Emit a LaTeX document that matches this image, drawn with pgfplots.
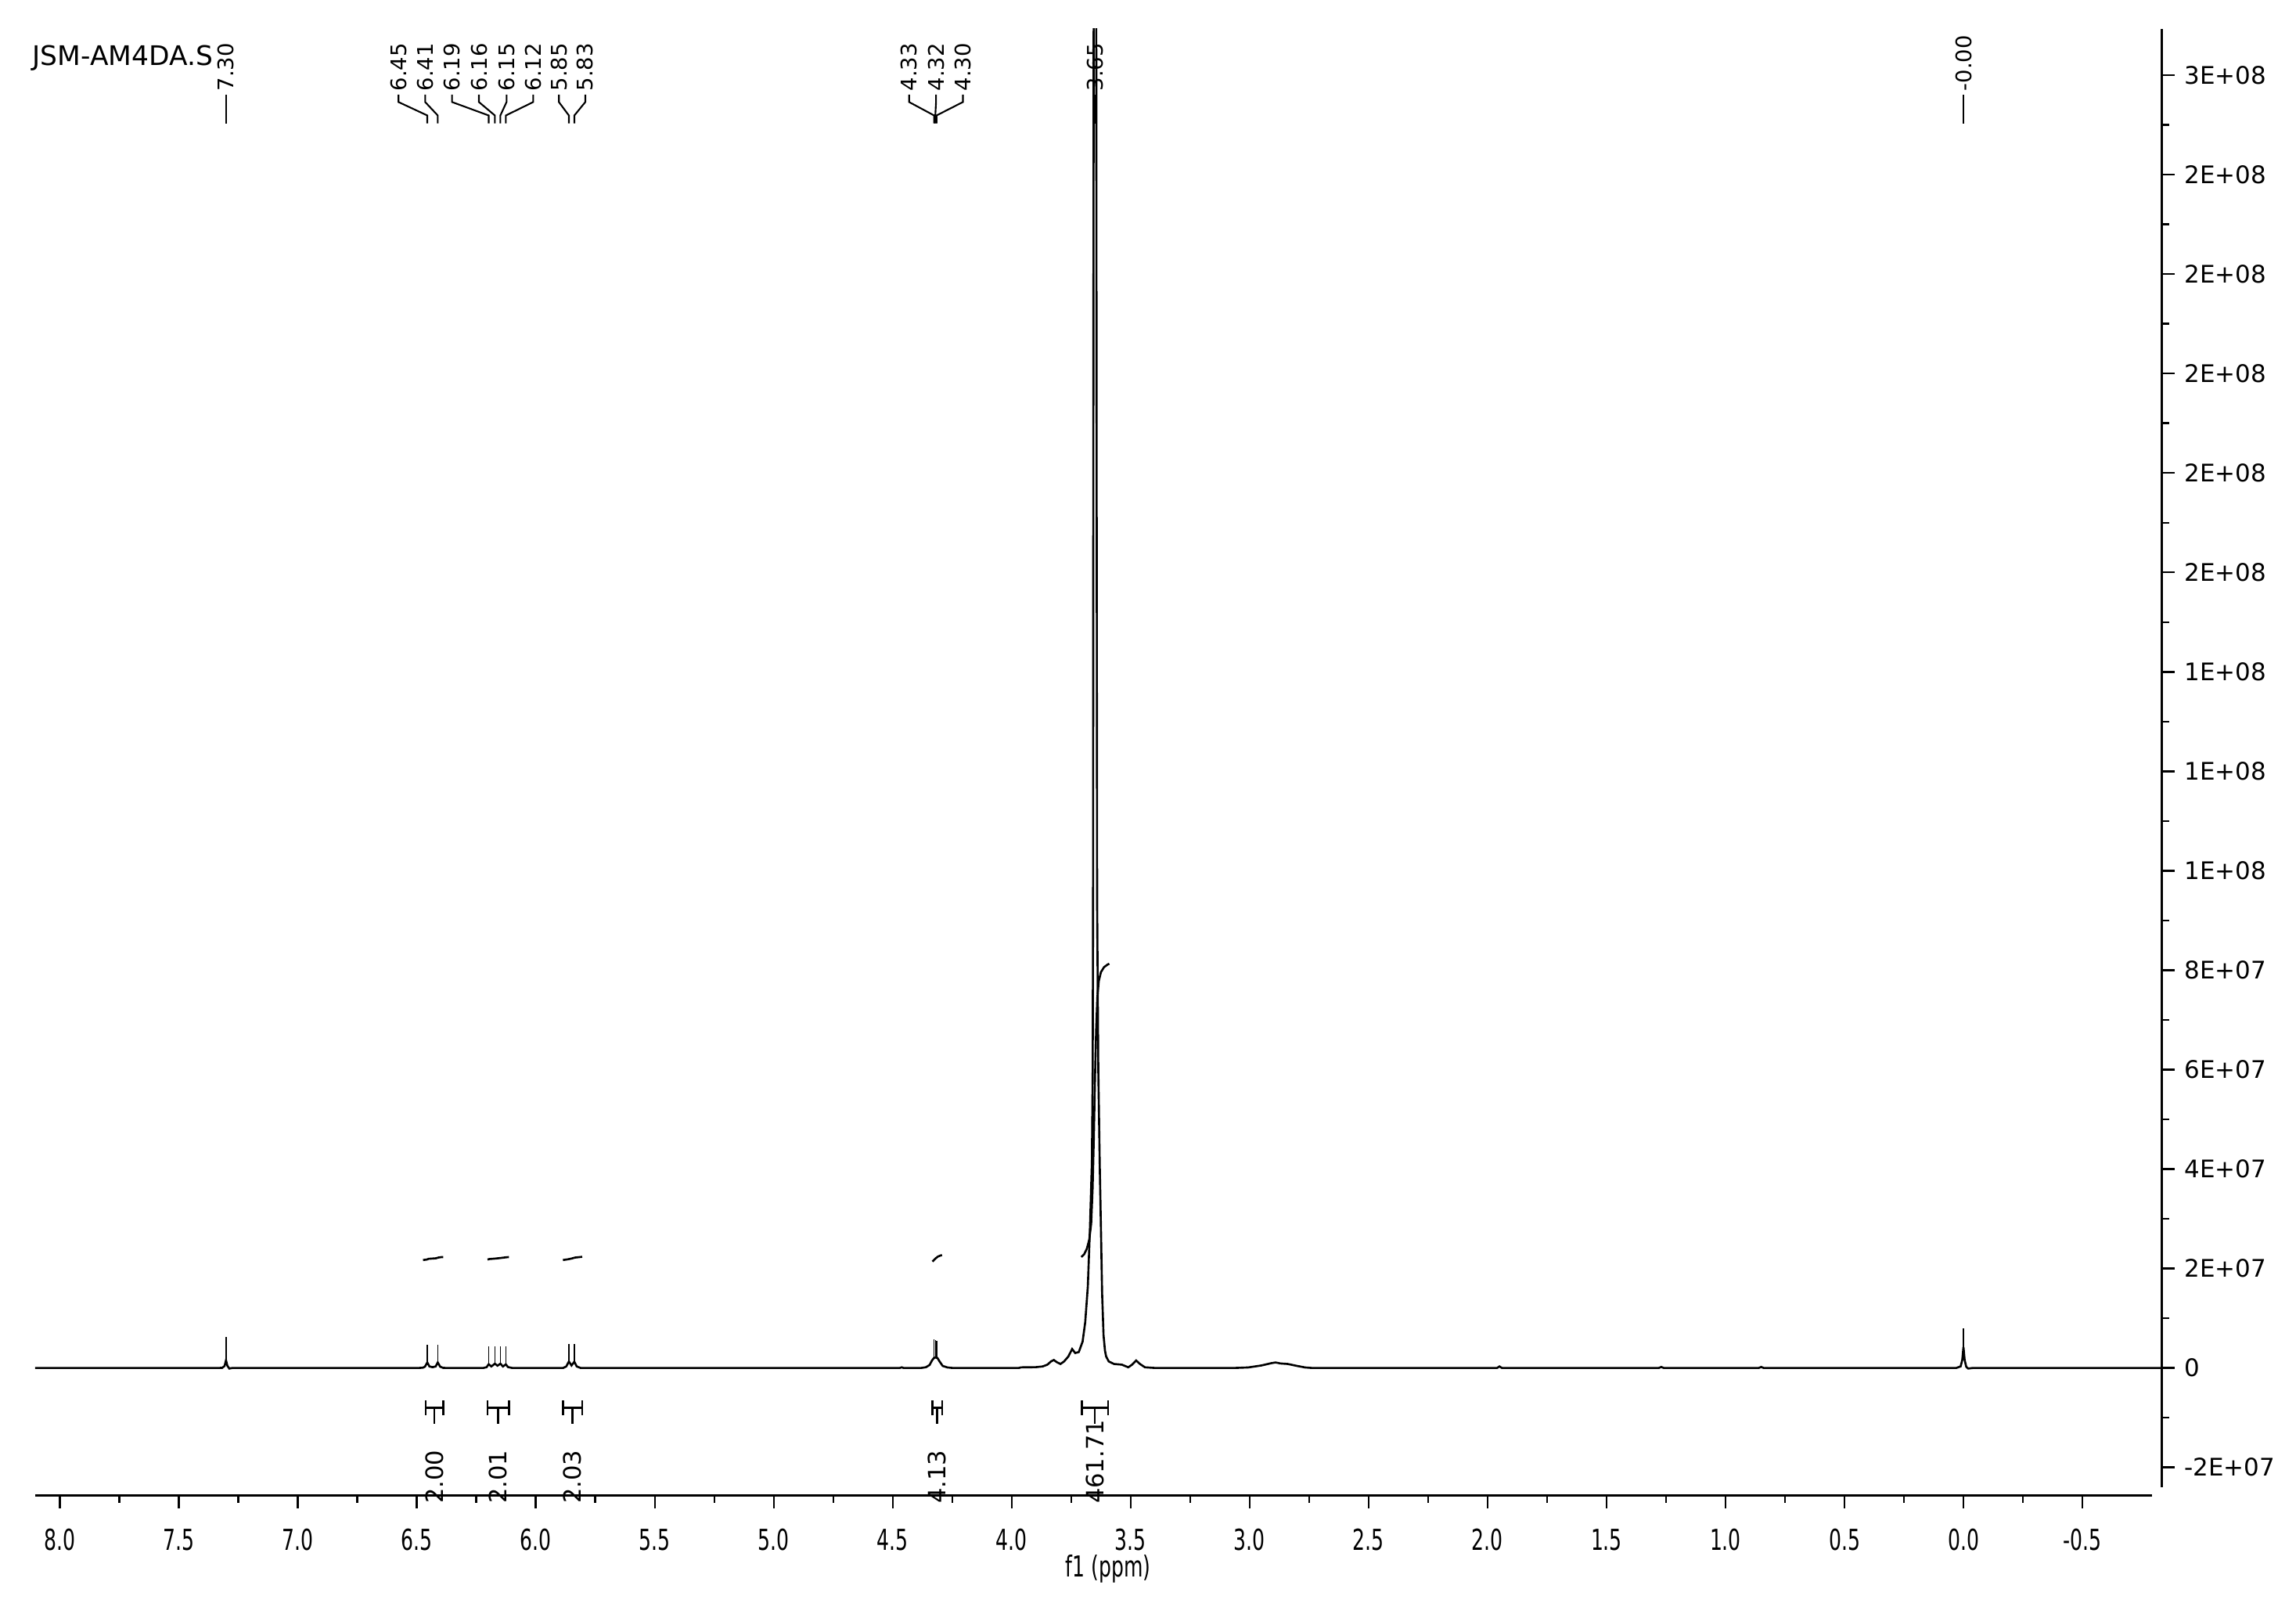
\documentclass[border=0pt]{standalone}
\usepackage{fontspec}
\setmainfont{DejaVu Sans}
\usepackage{pgfplots}
\pgfplotsset{compat=1.18}
\newcommand\lbl{\fontsize{7.8}{8}\selectfont}
\newcommand\intf{\fontsize{8.7}{9}\selectfont}
\begin{document}
\begin{tikzpicture}
\begin{axis}[
 name=ax, scale only axis, width=27.17cm, height=18.73cm,
 x dir=reverse, xmin=-0.832, xmax=8.104, ymin=-25.57, ymax=269.3,
 axis x line=bottom, axis y line=right,
 axis line style={-, line width=0.85pt},
 x axis line style={shorten <=1.2mm}, y axis line style={shorten <=1.0mm},
 tick align=outside, major tick length=1.7mm, minor tick length=1.0mm,
 every tick/.style={line width=0.7pt, black},
 xtick={-0.5,0,0.5,1,1.5,2,2.5,3,3.5,4,4.5,5,5.5,6,6.5,7,7.5,8},
 xticklabels={-0.5,0.0,0.5,1.0,1.5,2.0,2.5,3.0,3.5,4.0,4.5,5.0,5.5,6.0,6.5,7.0,7.5,8.0},
 minor x tick num=1,
 ytick={-20,0,20,40,60,80,100,120,140,160,180,200,220,240,260},
 yticklabels={-2E+07,0,2E+07,4E+07,6E+07,8E+07,1E+08,1E+08,1E+08,2E+08,2E+08,2E+08,2E+08,2E+08,3E+08},
 minor y tick num=1,
 xticklabel style={font=\fontsize{10.5}{11}\selectfont, xscale=0.68, yshift=-1.4mm},
 yticklabel style={font=\fontsize{8.8}{10}\selectfont},
 xlabel={f1 (ppm)},
 xlabel style={at={(axis description cs:0.5046,0)}, anchor=center, yshift=-9.4mm, font=\fontsize{10.5}{11}\selectfont, xscale=0.68},
 clip mode=individual,
]
% spectrum
\addplot[black, line width=0.75pt] coordinates {
(8.11,0) (7.33,0) (7.318,0.02) (7.308,0.4) (7.302,1.55) (7.296,0.4) (7.288,-0.12) (7.275,0)
(6.49,0) (6.475,0.05) (6.466,0.25) (6.456,1.1) (6.447,0.3) (6.434,0.15) (6.421,0.3) (6.412,1.1) (6.402,0.25) (6.39,0.02) (6.38,0)
(6.22,0) (6.207,0.15) (6.198,0.75) (6.187,0.3) (6.172,0.85) (6.161,0.45) (6.149,0.85) (6.138,0.3) (6.126,0.72) (6.117,0.18) (6.10,0)
(5.885,0) (5.872,0.3) (5.861,1.3) (5.85,0.5) (5.838,1.25) (5.828,0.3) (5.812,0)
(4.47,0) (4.462,0.12) (4.455,0) (4.38,0) (4.36,0.15) (4.345,0.6) (4.335,1.5) (4.327,2.0) (4.32,2.1) (4.312,2.0) (4.303,1.3) (4.29,0.4) (4.27,0.1) (4.25,0)
(3.97,0) (3.96,0.12) (3.90,0.15) (3.87,0.3) (3.85,0.66) (3.835,1.3) (3.823,1.6) (3.81,1.15) (3.795,0.8) (3.78,1.3) (3.762,2.3) (3.746,3.8) (3.733,3.0) (3.718,3.2) (3.702,5.3) (3.691,9.2) (3.68,16.4) (3.671,28.2) (3.663,41.3) (3.6595,60) (3.658,94) (3.657,180) (3.6555,269) (3.650,340) (3.6445,269) (3.643,180) (3.641,94) (3.636,60) (3.630,41) (3.625,28.2) (3.620,15) (3.614,6.6) (3.608,3.5) (3.603,2.3) (3.592,1.3) (3.57,0.8) (3.537,0.66) (3.51,0.13) (3.494,0.66) (3.477,1.5) (3.461,0.8) (3.44,0.13) (3.40,0)
(3.06,0) (3.006,0.1) (2.95,0.5) (2.91,0.95) (2.891,1.1) (2.87,0.9) (2.84,0.8) (2.80,0.4) (2.767,0.1) (2.74,0)
(1.96,0) (1.95,0.3) (1.94,0) (1.28,0) (1.27,0.2) (1.26,0) (0.86,0) (0.85,0.2) (0.84,0)
(0.03,0) (0.012,0.3) (0.005,1.6) (0.0,4.2) (-0.005,1.6) (-0.012,0.2) (-0.02,-0.12) (-0.04,0) (-0.84,0)
};
% integral curves
\addplot[black, line width=0.75pt] coordinates {(6.474,21.7) (6.458,21.8) (6.45,21.95) (6.42,22.05) (6.41,22.2) (6.395,22.3) (6.389,22.3)};
\addplot[black, line width=0.75pt] coordinates {(6.203,21.8) (6.195,21.9) (6.17,22.0) (6.15,22.1) (6.125,22.25) (6.113,22.3)};
\addplot[black, line width=0.75pt] coordinates {(5.886,21.7) (5.865,21.85) (5.85,22.0) (5.835,22.2) (5.815,22.3) (5.805,22.35)};
\addplot[black, line width=0.75pt] coordinates {(4.333,21.4) (4.325,21.8) (4.318,22.1) (4.31,22.4) (4.30,22.6) (4.293,22.7)};
\addplot[black, line width=0.75pt] coordinates {(3.707,22.3) (3.695,22.9) (3.684,24.0) (3.674,25.8) (3.666,29) (3.660,36) (3.655,46) (3.650,58) (3.645,68) (3.640,74.5) (3.634,77.8) (3.625,79.6) (3.612,80.6) (3.598,81.1) (3.590,81.3)};
% peak markers
\draw[line width=0.4pt] (axis cs:7.302,1.55) -- (axis cs:7.302,6.2);
\draw[line width=0.4pt] (axis cs:6.456,1.1) -- (axis cs:6.456,4.7);
\draw[line width=0.4pt] (axis cs:6.412,1.1) -- (axis cs:6.412,4.7);
\draw[line width=0.4pt] (axis cs:6.198,0.75) -- (axis cs:6.198,4.4);
\draw[line width=0.4pt] (axis cs:6.172,0.85) -- (axis cs:6.172,4.4);
\draw[line width=0.4pt] (axis cs:6.149,0.85) -- (axis cs:6.149,4.4);
\draw[line width=0.4pt] (axis cs:6.126,0.72) -- (axis cs:6.126,4.4);
\draw[line width=0.4pt] (axis cs:5.861,1.3) -- (axis cs:5.861,4.75);
\draw[line width=0.4pt] (axis cs:5.838,1.25) -- (axis cs:5.838,4.75);
\draw[line width=0.4pt] (axis cs:4.327,2.0) -- (axis cs:4.327,5.8);
\draw[line width=0.4pt] (axis cs:4.321,2.1) -- (axis cs:4.321,5.6);
\draw[line width=0.4pt] (axis cs:4.315,2.0) -- (axis cs:4.315,5.4);
\draw[line width=0.4pt] (axis cs:0.0,4.2) -- (axis cs:0.0,7.9);
% peak labels
\draw[line width=0.6pt] (axis cs:7.302,256.1) -- (axis cs:7.302,250.3);
\node[rotate=90, anchor=west, inner sep=0, font=\lbl] at (axis cs:7.302,256.7) {7.30};
\draw[line width=0.6pt] (axis cs:6.577,256.1) -- (axis cs:6.577,254.6) -- (axis cs:6.456,251.9) -- (axis cs:6.456,250.3);
\node[rotate=90, anchor=west, inner sep=0, font=\lbl] at (axis cs:6.577,256.7) {6.45};
\draw[line width=0.6pt] (axis cs:6.465,256.1) -- (axis cs:6.465,254.6) -- (axis cs:6.412,251.9) -- (axis cs:6.412,250.3);
\node[rotate=90, anchor=west, inner sep=0, font=\lbl] at (axis cs:6.465,256.7) {6.41};
\draw[line width=0.6pt] (axis cs:6.352,256.1) -- (axis cs:6.352,254.6) -- (axis cs:6.198,251.9) -- (axis cs:6.198,250.3);
\node[rotate=90, anchor=west, inner sep=0, font=\lbl] at (axis cs:6.352,256.7) {6.19};
\draw[line width=0.6pt] (axis cs:6.239,256.1) -- (axis cs:6.239,254.6) -- (axis cs:6.172,251.9) -- (axis cs:6.172,250.3);
\node[rotate=90, anchor=west, inner sep=0, font=\lbl] at (axis cs:6.239,256.7) {6.16};
\draw[line width=0.6pt] (axis cs:6.123,256.1) -- (axis cs:6.123,254.6) -- (axis cs:6.149,251.9) -- (axis cs:6.149,250.3);
\node[rotate=90, anchor=west, inner sep=0, font=\lbl] at (axis cs:6.123,256.7) {6.15};
\draw[line width=0.6pt] (axis cs:6.011,256.1) -- (axis cs:6.011,254.6) -- (axis cs:6.126,251.9) -- (axis cs:6.126,250.3);
\node[rotate=90, anchor=west, inner sep=0, font=\lbl] at (axis cs:6.011,256.7) {6.12};
\draw[line width=0.6pt] (axis cs:5.903,256.1) -- (axis cs:5.903,254.6) -- (axis cs:5.861,251.9) -- (axis cs:5.861,250.3);
\node[rotate=90, anchor=west, inner sep=0, font=\lbl] at (axis cs:5.903,256.7) {5.85};
\draw[line width=0.6pt] (axis cs:5.792,256.1) -- (axis cs:5.792,254.6) -- (axis cs:5.838,251.9) -- (axis cs:5.838,250.3);
\node[rotate=90, anchor=west, inner sep=0, font=\lbl] at (axis cs:5.792,256.7) {5.83};
\draw[line width=0.6pt] (axis cs:4.431,256.1) -- (axis cs:4.431,254.6) -- (axis cs:4.326,251.9) -- (axis cs:4.326,250.3);
\node[rotate=90, anchor=west, inner sep=0, font=\lbl] at (axis cs:4.431,256.7) {4.33};
\draw[line width=0.6pt] (axis cs:4.318,256.1) -- (axis cs:4.318,254.6) -- (axis cs:4.321,251.9) -- (axis cs:4.321,250.3);
\node[rotate=90, anchor=west, inner sep=0, font=\lbl] at (axis cs:4.318,256.7) {4.32};
\draw[line width=0.6pt] (axis cs:4.205,256.1) -- (axis cs:4.205,254.6) -- (axis cs:4.316,251.9) -- (axis cs:4.316,250.3);
\node[rotate=90, anchor=west, inner sep=0, font=\lbl] at (axis cs:4.205,256.7) {4.30};
\draw[line width=0.6pt] (axis cs:3.650,256.1) -- (axis cs:3.650,250.3);
\node[rotate=90, anchor=west, inner sep=0, font=\lbl] at (axis cs:3.650,256.7) {3.65};
\draw[line width=0.6pt] (axis cs:0.0,256.1) -- (axis cs:0.0,250.3);
\node[rotate=90, anchor=west, inner sep=0, font=\lbl] at (axis cs:0.0,256.7) {-0.00};
% title
\node[anchor=west, inner sep=0, font=\fontsize{9.8}{10}\selectfont] at (axis cs:8.117,263.5) {JSM-AM4DA.S};
% integration brackets
\draw[line width=0.7pt] (axis cs:6.463,-6.56) -- (axis cs:6.463,-9.45) (axis cs:6.463,-8.03) -- (axis cs:6.389,-8.03) (axis cs:6.389,-6.56) -- (axis cs:6.389,-9.45) (axis cs:6.426,-8.03) -- (axis cs:6.426,-11.3);
\node[rotate=90, anchor=west, inner sep=0, font=\intf] at (axis cs:6.426,-27.4) {2.00};
\draw[line width=0.7pt] (axis cs:6.203,-6.56) -- (axis cs:6.203,-9.45) (axis cs:6.203,-8.03) -- (axis cs:6.113,-8.03) (axis cs:6.113,-6.56) -- (axis cs:6.113,-9.45) (axis cs:6.158,-8.03) -- (axis cs:6.158,-11.3);
\node[rotate=90, anchor=west, inner sep=0, font=\intf] at (axis cs:6.158,-27.4) {2.01};
\draw[line width=0.7pt] (axis cs:5.886,-6.56) -- (axis cs:5.886,-9.45) (axis cs:5.886,-8.03) -- (axis cs:5.805,-8.03) (axis cs:5.805,-6.56) -- (axis cs:5.805,-9.45) (axis cs:5.846,-8.03) -- (axis cs:5.846,-11.3);
\node[rotate=90, anchor=west, inner sep=0, font=\intf] at (axis cs:5.846,-27.4) {2.03};
\draw[line width=0.7pt] (axis cs:4.333,-6.56) -- (axis cs:4.333,-9.45) (axis cs:4.333,-8.03) -- (axis cs:4.293,-8.03) (axis cs:4.293,-6.56) -- (axis cs:4.293,-9.45) (axis cs:4.313,-8.03) -- (axis cs:4.313,-11.3);
\node[rotate=90, anchor=west, inner sep=0, font=\intf] at (axis cs:4.313,-27.4) {4.13};
\draw[line width=0.7pt] (axis cs:3.705,-6.56) -- (axis cs:3.705,-9.45) (axis cs:3.705,-8.03) -- (axis cs:3.594,-8.03) (axis cs:3.594,-6.56) -- (axis cs:3.594,-9.45) (axis cs:3.650,-8.03) -- (axis cs:3.650,-11.3);
\node[rotate=90, anchor=west, inner sep=0, font=\intf] at (axis cs:3.650,-27.4) {461.71};
\end{axis}
\path[use as bounding box] ([shift={(-0.45cm,-1.42cm)}]ax.south west) rectangle ([shift={(28.89cm,19.10cm)}]ax.south west);
\end{tikzpicture}
\end{document}
